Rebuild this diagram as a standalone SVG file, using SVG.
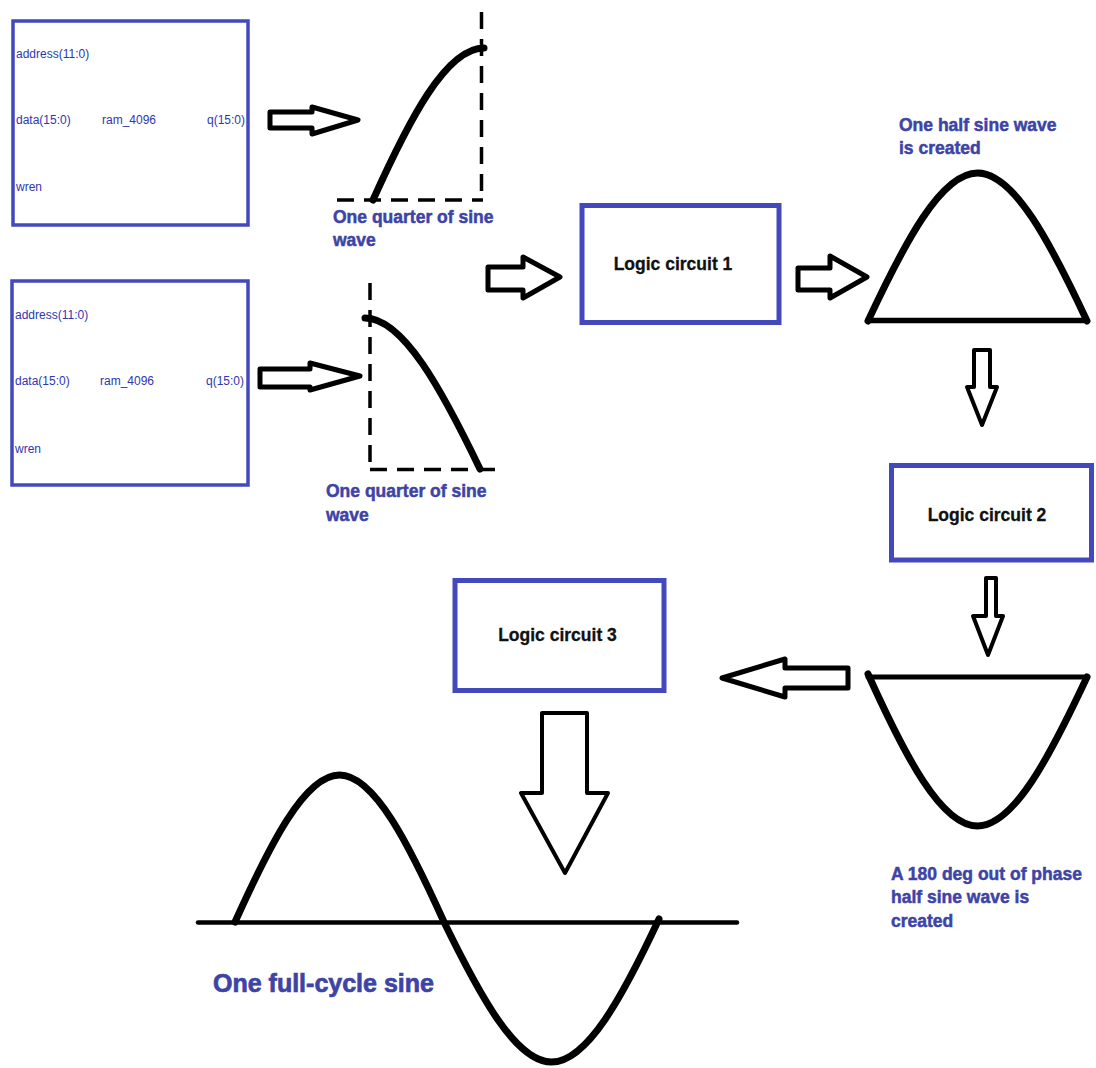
<svg xmlns="http://www.w3.org/2000/svg" width="1096" height="1068" viewBox="0 0 1096 1068">
  <style>
    .ram { fill: #ffffff; stroke: #4349bd; stroke-width: 3.5; }
    .logic { fill: #ffffff; stroke: #4349bd; stroke-width: 5; }
    .port { font-family: "Liberation Sans", Arial, sans-serif; font-size: 12px; fill: #2f36b0; }
    .lbl { font-family: "Liberation Sans", Arial, sans-serif; font-size: 17.5px; font-weight: bold; fill: #3d44a5; stroke: #3d44a5; stroke-width: 0.5; }
    .big { font-size: 25px; stroke-width: 0.7; }
    .ltxt { font-family: "Liberation Sans", Arial, sans-serif; font-size: 17.5px; font-weight: bold; fill: #111111; stroke: #111111; stroke-width: 0.3; text-anchor: middle; }
    .wave { fill: none; stroke: #000000; stroke-width: 7; stroke-linecap: round; stroke-linejoin: round; }
    .axis { fill: none; stroke: #000000; stroke-width: 4.5; stroke-linecap: round; }
    .dash { fill: none; stroke: #000000; stroke-width: 3.5; stroke-dasharray: 17 10; }
    .arrow { fill: #ffffff; stroke: #000000; stroke-width: 5; stroke-linejoin: round; }
  </style>

  <rect width="1096" height="1068" fill="#ffffff"/>

  <!-- RAM block, upper -->
  <g id="ram1">
    <rect class="ram" x="13" y="21" width="235" height="204"/>
    <text class="port" x="16" y="58">address(11:0)</text>
    <text class="port" x="16" y="124">data(15:0)</text>
    <text class="port" x="102" y="124">ram_4096</text>
    <text class="port" x="245" y="124" text-anchor="end">q(15:0)</text>
    <text class="port" x="16" y="191">wren</text>
  </g>

  <!-- RAM block, lower -->
  <g id="ram2">
    <rect class="ram" x="12" y="281" width="236" height="204"/>
    <text class="port" x="15" y="319">address(11:0)</text>
    <text class="port" x="15" y="385">data(15:0)</text>
    <text class="port" x="100" y="385">ram_4096</text>
    <text class="port" x="244" y="385" text-anchor="end">q(15:0)</text>
    <text class="port" x="15" y="453">wren</text>
  </g>

  <!-- rising quarter wave -->
  <g id="wave-q1">
    <line class="dash" x1="481.5" y1="12" x2="481.5" y2="200"/>
    <line class="dash" x1="337" y1="200" x2="483" y2="200"/>
    <path class="wave" d="M373,200 C409,120 446,48 484,48"/>
    <text class="lbl" x="333" y="223">One quarter of sine</text>
    <text class="lbl" x="333" y="246">wave</text>
  </g>

  <!-- falling quarter wave -->
  <g id="wave-q2">
    <line class="dash" x1="370" y1="283" x2="370" y2="470"/>
    <line class="dash" x1="370" y1="469.5" x2="496" y2="469.5"/>
    <path class="wave" d="M365,318 C403,318 442,390 480,469"/>
    <text class="lbl" x="326" y="497">One quarter of sine</text>
    <text class="lbl" x="326" y="521">wave</text>
  </g>

  <!-- logic stages -->
  <g id="logic1">
    <rect class="logic" x="582" y="205.5" width="197" height="117"/>
    <text class="ltxt" x="673" y="270">Logic circuit 1</text>
  </g>
  <g id="logic2">
    <rect class="logic" x="891.5" y="465.5" width="200" height="94.5"/>
    <text class="ltxt" x="987" y="520.5">Logic circuit 2</text>
  </g>
  <g id="logic3">
    <rect class="logic" x="455" y="580.5" width="209" height="110"/>
    <text class="ltxt" x="557.5" y="640.5">Logic circuit 3</text>
  </g>

  <!-- positive half wave -->
  <g id="wave-half">
    <text class="lbl" x="899" y="131">One half sine wave</text>
    <text class="lbl" x="899" y="153.5">is created</text>
    <line class="axis" x1="868" y1="320.5" x2="1087" y2="320.5" style="stroke-width:5.5"/>
    <path class="wave" d="M868,321 C904.5,243 941,173 977.5,173 C1014,173 1050.5,243 1087,321"/>
  </g>

  <!-- inverted half wave -->
  <g id="wave-inv">
    <line class="axis" x1="868" y1="677" x2="1087" y2="677" style="stroke-width:5"/>
    <path class="wave" d="M868,674 C904.5,755 941,826 977.5,826 C1014,826 1050.5,755 1087,677"/>
    <text class="lbl" x="891" y="880">A 180 deg out of phase</text>
    <text class="lbl" x="891" y="903">half sine wave is</text>
    <text class="lbl" x="891" y="926.5">created</text>
  </g>

  <!-- full cycle -->
  <g id="wave-full">
    <line class="axis" x1="198" y1="922.5" x2="737" y2="922.5"/>
    <path class="wave" d="M235,922 C269.8,845 304.7,775 339.5,775 C374.3,775 409.2,845 444,922 C479.8,995.4 515.7,1062 551.5,1062 C587.3,1062 623.2,995.4 659,919"/>
    <text class="lbl big" x="213" y="992">One full-cycle sine</text>
  </g>

  <!-- block arrows between stages -->
  <g id="connectors">
    <polygon class="arrow" points="270,112 312,112 312,107 358,120 312,134 312,128 270,128"/>
    <polygon class="arrow" points="260,369 310,369 310,363 360,376 310,390 310,387 260,387"/>
    <polygon class="arrow" points="488,267 523,267 523,257 560,277 523,298 523,290 488,290"/>
    <polygon class="arrow" points="798,268 830,268 830,256 867,277 830,298 830,290 798,290"/>
    <polygon class="arrow" points="974,350 990,350 990,387 997,387 982,425 967,387 974,387" style="stroke-width:4"/>
    <polygon class="arrow" points="986,578 996,578 996,616 1003,616 988,655 973,616 986,616" style="stroke-width:4"/>
    <polygon class="arrow" points="848,668 848,688 785,688 785,697 722,678 785,659 785,668"/>
    <polygon class="arrow" points="542,713 587,713 587,793 608,793 565,873 521,793 542,793" style="stroke-width:4"/>
  </g>
</svg>
